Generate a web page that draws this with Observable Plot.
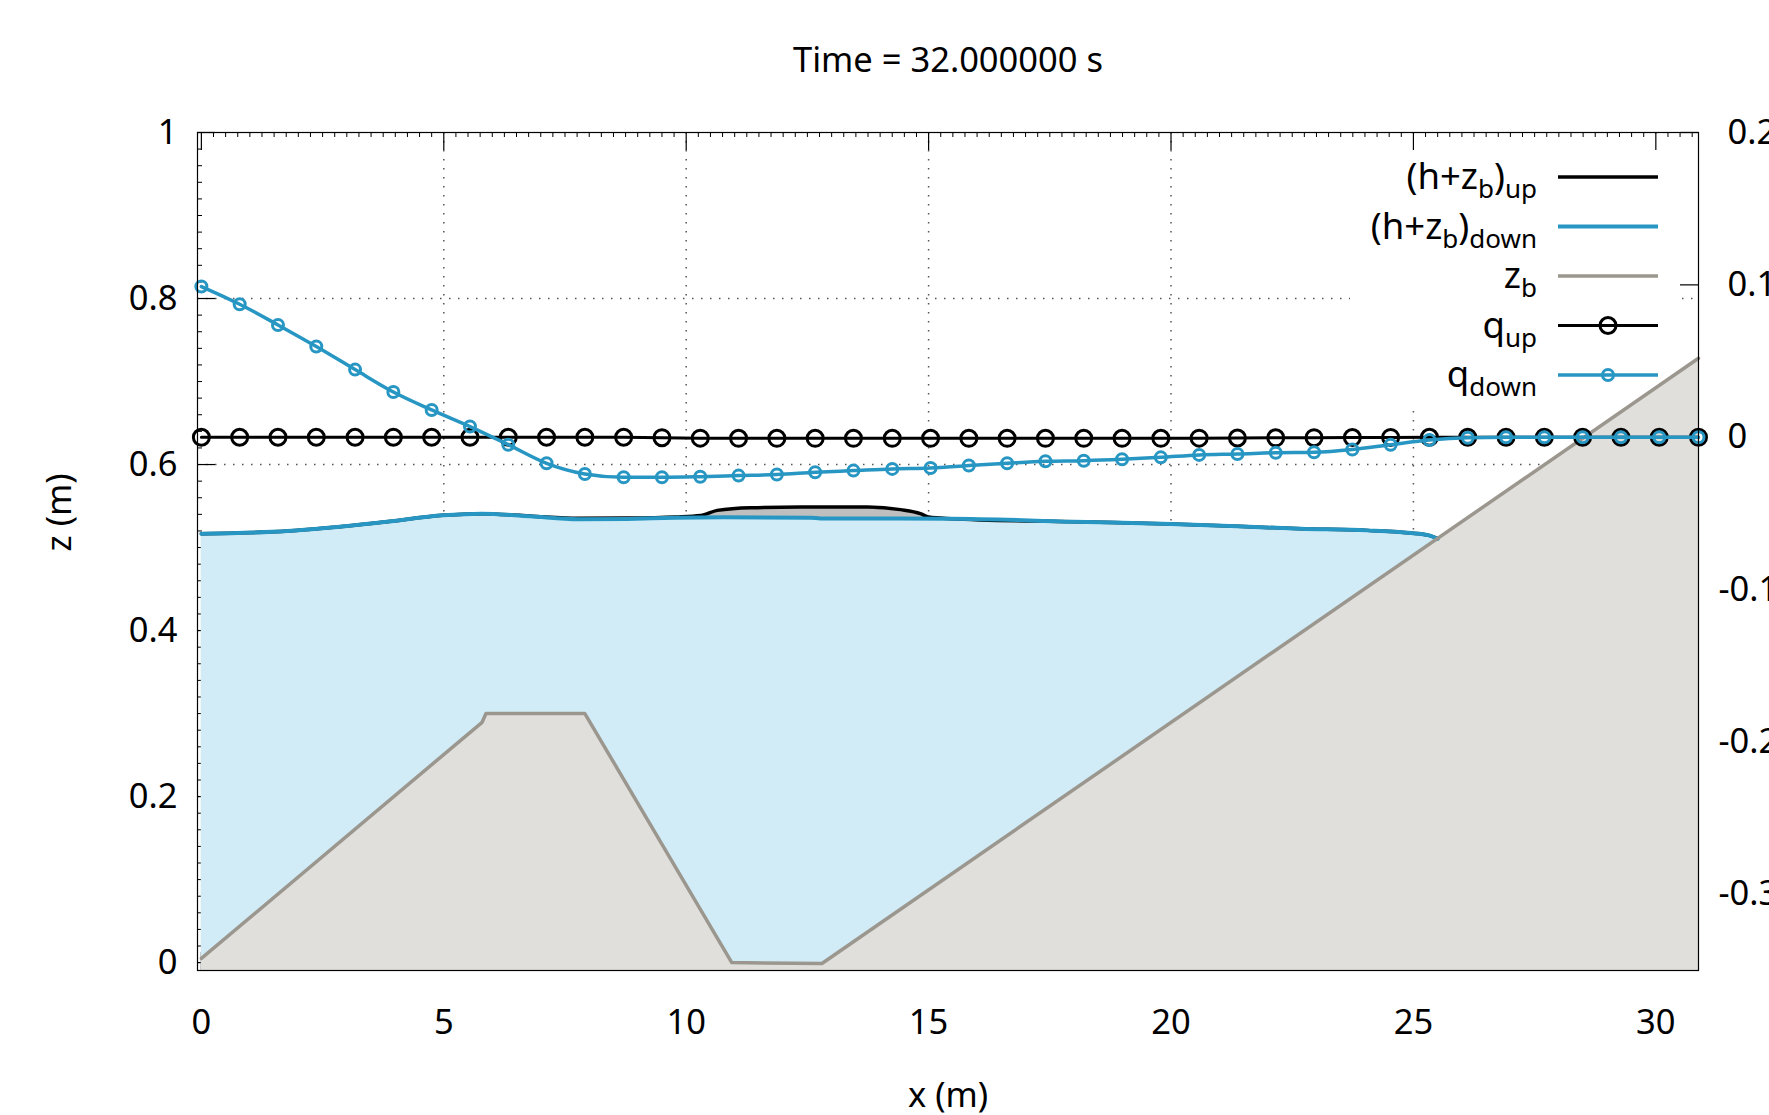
<!DOCTYPE html>
<html>
<head>
<meta charset="utf-8">
<script src="https://cdn.jsdelivr.net/npm/d3@7"></script>
<script src="https://cdn.jsdelivr.net/npm/@observablehq/plot@0.6"></script>
<style>
  html, body { margin: 0; padding: 0; background: #fff; overflow: hidden; }
  #chart svg { display: block; }
</style>
</head>
<body>
<div id="chart"></div>
<script>
// ---------- text ----------
const titleText = "Time = 32.000000 s";
const xLabel = "x (m)";
const yLabel = "z (m)";

// ---------- axes ----------
const xTicks = [0, 5, 10, 15, 20, 25, 30];
const yTicks = [0, 0.2, 0.4, 0.6, 0.8, 1];
const qTicks = [-0.3, -0.2, -0.1, 0, 0.1, 0.2];
const xDomain = [-0.08, 30.88];
const yDomain = [-0.0095, 1];
const qDomain = [-0.35, 0.2];

// ---------- bed elevation z_b ----------
const bedX = [0, 5.79, 5.87, 7.91, 10.94, 12.80, 30.88];
const bedZ = [0.005, 0.2895, 0.300, 0.300, 0.000, -0.001, 0.728];

// ---------- free surface (h+z_b)_down ----------
const downX = [0, 1.78, 3.78, 4.98, 5.78, 6.77, 7.78, 8.78, 9.78, 10.77, 12.57, 12.77, 15.46, 18.0, 20.0, 22.68, 24.05, 24.95, 25.3, 25.5];
const downZ = [0.5167, 0.5199, 0.5307, 0.5388, 0.5408, 0.5376, 0.5340, 0.5345, 0.5360, 0.5365, 0.5360, 0.5350, 0.5348, 0.531, 0.5285, 0.5227, 0.5207, 0.5175, 0.515, 0.5107];

// ---------- free surface (h+z_b)_up ----------
const upX = [0, 1.78, 3.78, 4.98, 5.78, 6.77, 7.78, 8.78, 9.78, 10.30, 10.64, 11.33, 12.37, 13.74, 14.42, 14.83, 15.0, 15.46, 18.0, 20.0, 22.68, 24.05, 24.95, 25.3, 25.5];
const upZ = [0.5167, 0.5199, 0.5307, 0.5388, 0.5408, 0.5380, 0.5352, 0.5355, 0.5368, 0.5385, 0.5448, 0.5480, 0.5488, 0.5488, 0.5457, 0.5409, 0.5367, 0.5348, 0.531, 0.5285, 0.5227, 0.5207, 0.5175, 0.515, 0.5107];

// ---------- discharges q (right axis) ----------
const qX = [0, 0.79, 1.58, 2.37, 3.17, 3.96, 4.75, 5.54, 6.33, 7.12, 7.91, 8.71, 9.50, 10.29, 11.08, 11.87, 12.66, 13.45, 14.25, 15.04, 15.83, 16.62, 17.41, 18.20, 18.99, 19.79, 20.58, 21.37, 22.16, 22.95, 23.74, 24.53, 25.33, 26.12, 26.91, 27.70, 28.49, 29.28, 30.07, 30.88];
const qUp = [0, 0, 0, 0, 0, 0, 0, 0, 0, 0, 0, 0, -0.0003, -0.0006, -0.0007, -0.0007, -0.0007, -0.0007, -0.0007, -0.0007, -0.0007, -0.0007, -0.0007, -0.0007, -0.0007, -0.0007, -0.0006, -0.0005, -0.0004, -0.0003, -0.0002, -0.0001, 0, 0, 0, 0, 0, 0, 0, 0];
const qDown = [0.0989, 0.0873, 0.0737, 0.0595, 0.0444, 0.0297, 0.0179, 0.0070, -0.0049, -0.0171, -0.0241, -0.0263, -0.0263, -0.0259, -0.0252, -0.0245, -0.0230, -0.0219, -0.0208, -0.0202, -0.0186, -0.0171, -0.0158, -0.0154, -0.0145, -0.0132, -0.0116, -0.0110, -0.0102, -0.0099, -0.0081, -0.0049, -0.0018, -0.0003, 0, 0, 0, 0, 0, 0];

// ---------- legend ----------
const legendLabels = [
  [["(h+z", 0], ["b", 1], [")", 0], ["up", 1]],
  [["(h+z", 0], ["b", 1], [")", 0], ["down", 1]],
  [["z", 0], ["b", 1]],
  [["q", 0], ["up", 1]],
  [["q", 0], ["down", 1]]
];

// ---------- style ----------
const FONT = "'Noto Sans', 'Open Sans', sans-serif";
const BLUE = "#2796c3";
const WATER = "#d1ecf7";
const BED_FILL = "#e0dfdc";
const BED_LINE = "#9b978f";
const BUMP = "#bfbfbf";
const W = 1769, H = 1115;
const ML = 197, MR = 71, MT = 132, MB = 145;
const FW = W - ML - MR, FH = H - MT - MB;
const FS = 34.5;

const qToZ = q => yDomain[0] + (q - qDomain[0]) * (yDomain[1] - yDomain[0]) / (qDomain[1] - qDomain[0]);

const bed = bedX.map((x, i) => ({x, z: bedZ[i]}));
const down = downX.map((x, i) => ({x, z: downZ[i]}));
const up = upX.map((x, i) => ({x, z: upZ[i]}));
const qData = qX.map((x, i) => ({x, up: qUp[i], down: qDown[i]}));

const yMinor = d3.range(0, 1.0001, 0.02).filter(v => !yTicks.some(t => Math.abs(t - v) < 1e-6));
const xMinor = d3.range(0, 30.9, 0.25).filter(v => !xTicks.some(t => Math.abs(t - v) < 1e-6));

const grid = {stroke: "#555", strokeWidth: 1.5, strokeDasharray: "1.5,7.5"};

const svg = Plot.plot({
  width: W, height: H,
  marginLeft: ML, marginRight: MR, marginTop: MT, marginBottom: MB,
  x: {domain: xDomain, axis: null},
  y: {domain: yDomain, axis: null},
  style: {fontFamily: FONT, fontSize: FS + "px", background: "#fff", color: "#000"},
  marks: [
    // grid (behind everything)
    Plot.ruleX(xTicks.slice(1), {x: d => d, ...grid}),
    Plot.ruleY(yTicks.slice(1, -1), {y: d => d, ...grid}),
    // ticks (behind fills)
    Plot.tickY(yMinor, {y: d => d, insetRight: FW - 5, stroke: "#000", strokeWidth: 1}),
    Plot.tickY(yTicks, {y: d => d, insetRight: FW - 18, stroke: "#000", strokeWidth: 1.2}),
    Plot.tickY(qTicks, {y: qToZ, insetLeft: FW - 18, stroke: "#000", strokeWidth: 1.2}),
    Plot.tickX(xMinor, {x: d => d, insetBottom: FH - 5, stroke: "#000", strokeWidth: 1}),
    Plot.tickX(xTicks, {x: d => d, insetBottom: FH - 18, stroke: "#000", strokeWidth: 1.2}),
    Plot.tickX(xTicks, {x: d => d, insetTop: FH - 18, stroke: "#000", strokeWidth: 1.2}),
    // fills
    Plot.areaY(up, {x: "x", y1: yDomain[0], y2: "z", fill: BUMP, curve: "monotone-x"}),
    Plot.areaY(down, {x: "x", y1: yDomain[0], y2: "z", fill: WATER, curve: "monotone-x"}),
    Plot.areaY(bed, {x: "x", y1: yDomain[0], y2: "z", fill: BED_FILL}),
    // lines
    Plot.line(up, {x: "x", y: "z", stroke: "#000", strokeWidth: 3.5, curve: "monotone-x"}),
    Plot.line(down, {x: "x", y: "z", stroke: BLUE, strokeWidth: 4, curve: "monotone-x"}),
    Plot.line(bed, {x: "x", y: "z", stroke: BED_LINE, strokeWidth: 3.5}),
    // discharges
    Plot.line(qData, {x: "x", y: d => qToZ(d.up), stroke: "#000", strokeWidth: 3}),
    Plot.dot(qData, {x: "x", y: d => qToZ(d.up), r: 8, stroke: "#000", strokeWidth: 3, fill: "none"}),
    Plot.line(qData, {x: "x", y: d => qToZ(d.down), stroke: BLUE, strokeWidth: 3.5, curve: "monotone-x"}),
    Plot.dot(qData, {x: "x", y: d => qToZ(d.down), r: 5.5, stroke: BLUE, strokeWidth: 3, fill: "none"}),
    // frame
    Plot.frame({stroke: "#000", strokeWidth: 1.2}),
    // tick labels
    Plot.text(xTicks, {x: d => d, frameAnchor: "bottom", dy: 52, text: d => String(d), fontSize: FS, lineAnchor: "middle"}),
    Plot.text(yTicks, {y: d => d, frameAnchor: "left", dx: -20, text: d => String(d), textAnchor: "end", fontSize: FS, lineAnchor: "middle"}),
    Plot.text(qTicks.filter(q => q >= 0), {y: qToZ, frameAnchor: "right", dx: 29, text: d => String(d), textAnchor: "start", fontSize: FS, lineAnchor: "middle"}),
    Plot.text(qTicks.filter(q => q < 0), {y: qToZ, frameAnchor: "right", dx: 20, text: d => String(d), textAnchor: "start", fontSize: FS, lineAnchor: "middle"}),
    // titles
    Plot.text([titleText], {frameAnchor: "top", dy: -72, fontSize: 34.5, lineAnchor: "middle"}),
    Plot.text([xLabel], {frameAnchor: "bottom", dy: 125, fontSize: FS, lineAnchor: "middle"}),
    Plot.text([yLabel], {frameAnchor: "left", dx: -138, rotate: -90, fontSize: FS, lineAnchor: "middle"})
  ]
});

document.getElementById("chart").appendChild(svg);

// ---------- legend (opaque key box above grid, below data) ----------
const NS = "http://www.w3.org/2000/svg";
const groups = svg.querySelectorAll(":scope > g");
const box = document.createElementNS(NS, "rect");
box.setAttribute("x", 1350); box.setAttribute("y", MT + 2);
box.setAttribute("width", 329); box.setAttribute("height", 272);
box.setAttribute("fill", "#fff");
groups[2].before(box);

const legendStyles = [
  {stroke: "#000", width: 3.5, r: 0},
  {stroke: BLUE, width: 4, r: 0},
  {stroke: BED_LINE, width: 3.5, r: 0},
  {stroke: "#000", width: 3, r: 8},
  {stroke: BLUE, width: 3.5, r: 5.5}
];
const lg = d3.select(svg).append("g").attr("font-family", FONT);
legendLabels.forEach((parts, i) => {
  const cy = 177 + 49.5 * i;
  const st = legendStyles[i];
  lg.append("line").attr("x1", 1558).attr("x2", 1658).attr("y1", cy).attr("y2", cy)
    .attr("stroke", st.stroke).attr("stroke-width", st.width);
  if (st.r) lg.append("circle").attr("cx", 1608).attr("cy", cy).attr("r", st.r)
    .attr("fill", "none").attr("stroke", st.stroke).attr("stroke-width", 3);
  const t = lg.append("text").attr("x", 1537).attr("y", cy + 12).attr("text-anchor", "end")
    .attr("font-size", 36.5).attr("fill", "#000");
  let cur = 0;
  parts.forEach(([s, sub]) => {
    const off = sub ? 9 : 0;
    t.append("tspan").attr("dy", off - cur).attr("font-size", sub ? 26 : 36.5).text(s);
    cur = off;
  });
});
</script>
</body>
</html>
